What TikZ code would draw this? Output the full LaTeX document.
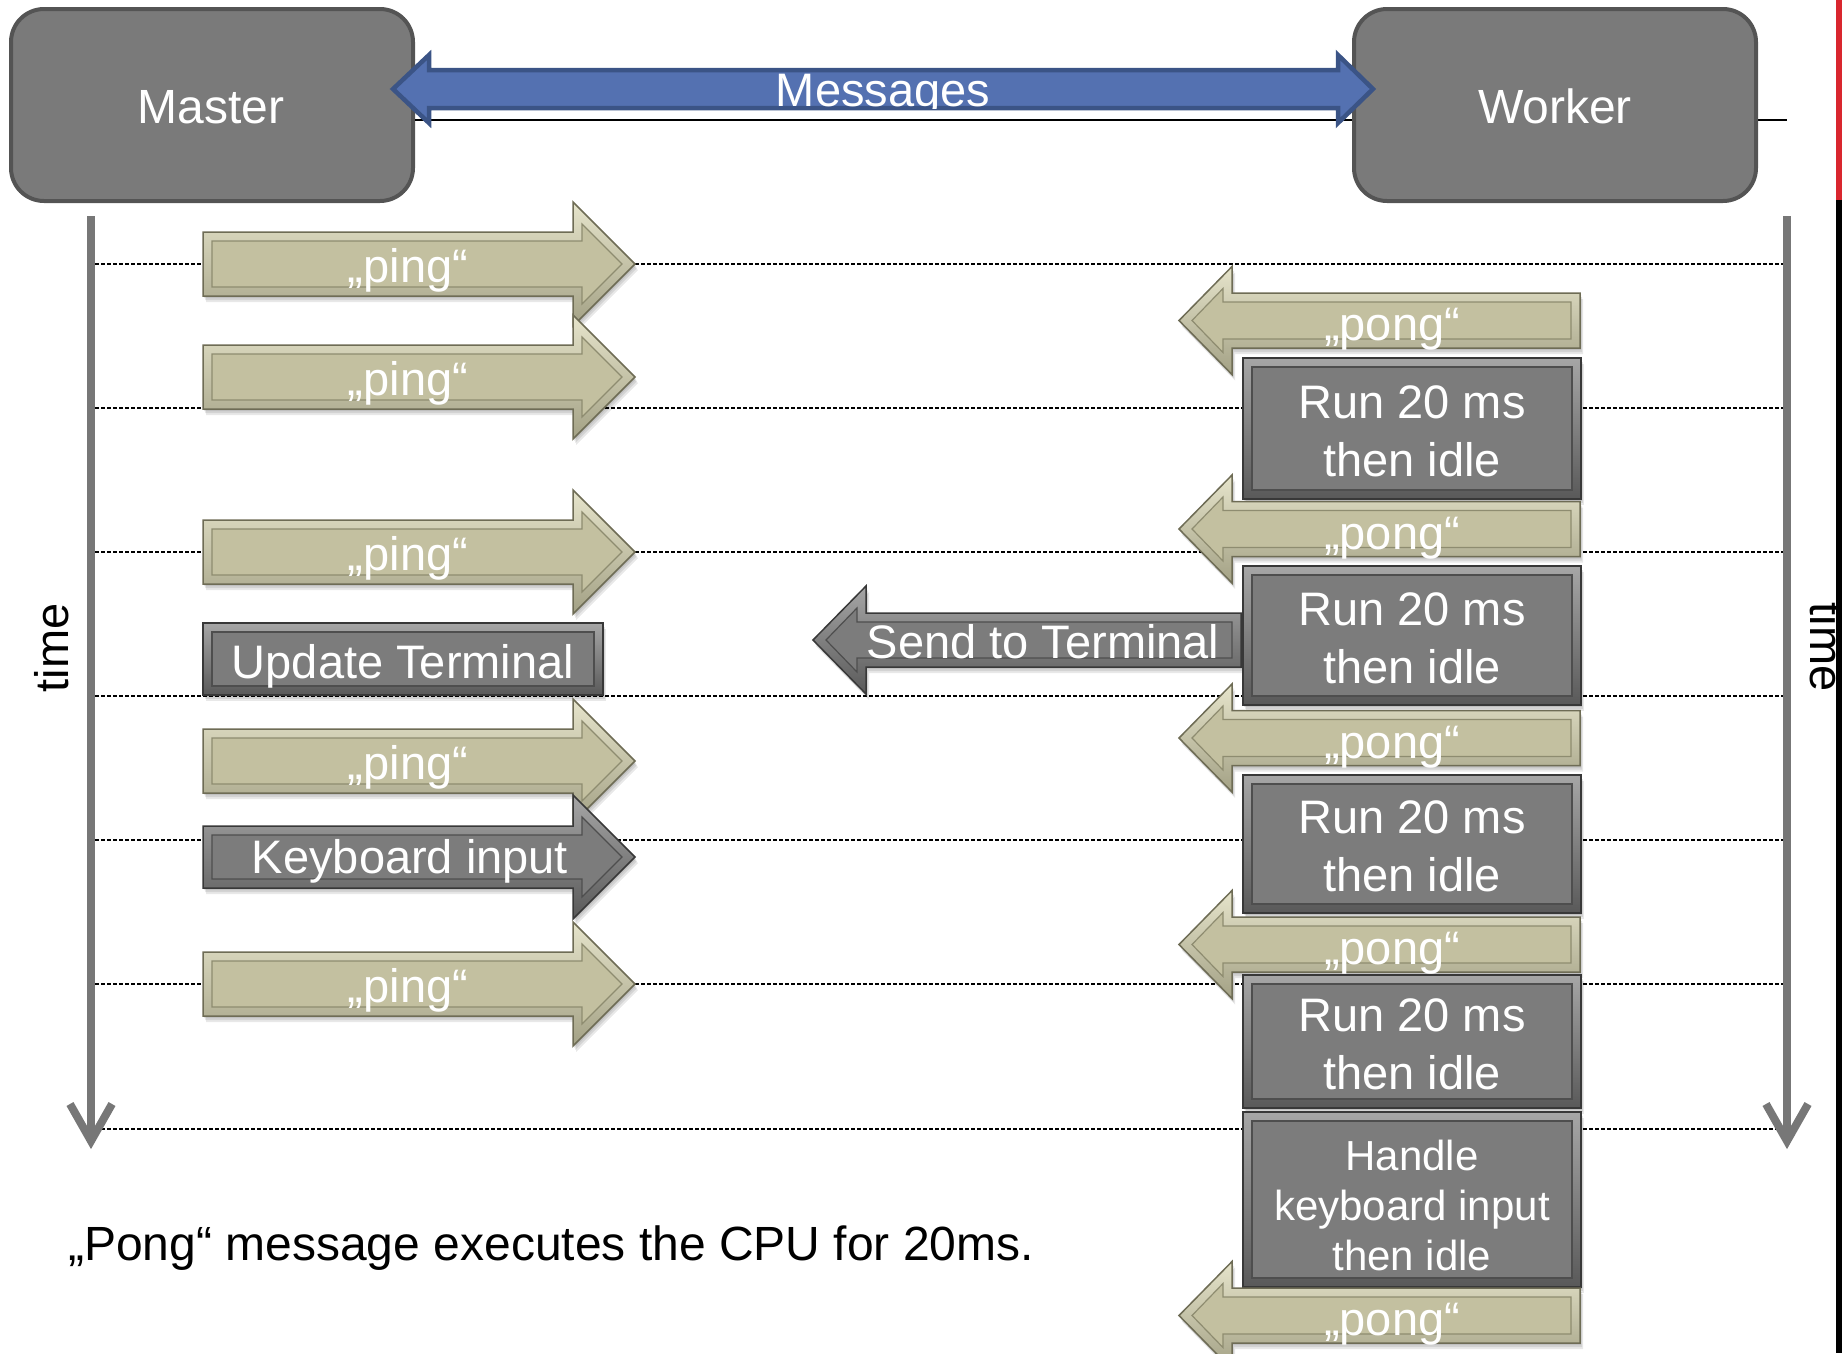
\documentclass[tikz,border=0pt]{standalone}
\usepackage{fontspec}
\setmainfont{Liberation Sans}
\definecolor{boxfill}{HTML}{7A7A7A}
\definecolor{boxline}{HTML}{545454}
\definecolor{msgfill}{HTML}{5471B1}
\definecolor{msgline}{HTML}{3B5486}
\definecolor{axisgray}{HTML}{777777}
\definecolor{khlight}{HTML}{E6E4CB}
\definecolor{khdark}{HTML}{A3A185}
\definecolor{khmain}{HTML}{C3C0A0}
\definecolor{khline}{HTML}{6E6C55}
\definecolor{khinner}{HTML}{8E8C70}
\definecolor{grlight}{HTML}{A6A6A6}
\definecolor{grdark}{HTML}{595959}
\definecolor{grmain}{HTML}{7C7C7C}
\definecolor{grline}{HTML}{383838}
\definecolor{grinner}{HTML}{4E4E4E}
\definecolor{barred}{HTML}{D9262E}

% block arrow outline: style; tail x; head-back x; tip x; centre y; body half-height; head half-height
\newcommand{\arrowshape}[7]{%
  \path[#1] ({#2},{(#5)-(#6)}) -- ({#3},{(#5)-(#6)}) -- ({#3},{(#5)-(#7)}) -- ({#4},{#5})
    -- ({#3},{(#5)+(#7)}) -- ({#3},{(#5)+(#6)}) -- ({#2},{(#5)+(#6)}) -- cycle;}

% bevelled block arrow with a soft shadow
\newcommand{\bevelarrow}[7]{%
  \pgfmathsetmacro\bsg{ifthenelse(#4>#2,1,-1)}%
  \foreach \sh in {2,4,6}{\arrowshape{fill=black,opacity=0.09,shift={(0.5*\sh,\sh)}}{#2}{#3}{#4}{#5}{#6}{#7}}%
  \arrowshape{#1 outer}{#2}{#3}{#4}{#5}{#6}{#7}%
  \arrowshape{#1 inner}{#2+(\bsg)*9}{#3+(\bsg)*9}{#4-(\bsg)*13}{#5}{#6-9}{#7-22}%
}

% bevelled rectangle with a soft shadow: kind; x1; y1; x2; y2
\newcommand{\bevelbox}[5]{%
  \foreach \sh in {2,4,6}{\path[fill=black,opacity=0.09,shift={(0.5*\sh,\sh)}] (#2,#3) rectangle (#4,#5);}%
  \path[#1 outer] (#2,#3) rectangle (#4,#5);%
  \path[#1 inner] ({#2+9},{#3+9}) rectangle ({#4-9},{#5-9});%
}

\begin{document}
\begin{tikzpicture}[x=1pt,y=-1pt,
  khaki outer/.style={top color=khlight, bottom color=khdark, draw=khline, line width=1.5pt},
  khaki inner/.style={fill=khmain, draw=khinner, line width=1.2pt},
  gray outer/.style={top color=grlight, bottom color=grdark, draw=grline, line width=1.5pt},
  gray inner/.style={fill=grmain, draw=grinner, line width=1.2pt},
  lbl/.style={text=white, inner sep=0pt, font=\fontsize{47}{58}\selectfont},
  multi/.style={text=white, inner sep=0pt, align=center, font=\fontsize{47}{58}\selectfont},
  procbox/.style={draw=boxline, fill=boxfill, line width=4pt, rounded corners=33pt,
    minimum width=402pt, minimum height=192pt, inner sep=0pt, text=white,
    font=\fontsize{48}{58}\selectfont},
  gridline/.style={draw=black, line width=1.2pt, dash pattern=on 4pt off 2pt},
  axis/.style={draw=axisgray, line width=8pt},
  axislabel/.style={inner sep=0pt, font=\fontsize{47}{58}\selectfont}]
\useasboundingbox (0,0) rectangle (1842,1353);

% time grid
\foreach \yy in {264,408,552,696,840,984,1129}
  \draw[gridline] (95,\yy) -- (1783,\yy);

% process boxes and the channel between them
\coordinate (chanend) at (1787,120);
\node[procbox] (master) at (212,105) {};
\draw[line width=2.5pt] (master.east |- chanend) -- (chanend);
\node[procbox] (worker) at (1555,105) {};
\node[text=white, inner sep=0pt, font=\fontsize{48}{58}\selectfont, anchor=base] (mastertxt) at (211,123) {Master};
\node[text=white, inner sep=0pt, font=\fontsize{48}{58}\selectfont, anchor=base] (workertxt) at (1555,123) {Worker};

% two-way message arrow
\path[fill=msgfill, draw=msgline, line width=4.5pt, line join=miter]
  (393,89) -- (429,55) -- (429,70) -- (1338,70) -- (1338,55) -- (1373,89)
  -- (1338,123) -- (1338,108) -- (429,108) -- (429,123) -- cycle;
\begin{scope}
  \clip (393,89) -- (429,55) -- (429,70) -- (1338,70) -- (1338,55) -- (1373,89)
    -- (1338,123) -- (1338,108) -- (429,108) -- (429,123) -- cycle;
  \node[lbl, anchor=base] (msg) at (883,106) {Messages};
\end{scope}

% time axes
\coordinate (ltop) at (91,216);
\coordinate (lbot) at (91,1141);
\coordinate (rtop) at (1787,216);
\coordinate (rbot) at (1787,1141);
\draw[axis] (ltop) -- (lbot);
\draw[axis, line join=miter] (70,1104) -- (lbot) -- (112,1104);
\draw[axis] (rtop) -- (rbot);
\draw[axis, line join=miter] (1766,1104) -- (rbot) -- (1808,1104);
\node[axislabel, rotate=90, anchor=base] (tleft) at (68,648) {time};
\node[axislabel, rotate=-90, anchor=base] (tright) at (1810,647) {time};

% master side
\bevelarrow{khaki}{203}{573}{635}{264}{32}{62}
\node[lbl, anchor=base] (ping1) at (408,282) {„ping“};
\bevelarrow{khaki}{203}{573}{635}{377}{32}{62}
\node[lbl, anchor=base] (ping2) at (408,395) {„ping“};
\bevelarrow{khaki}{203}{573}{635}{552}{32}{62}
\node[lbl, anchor=base] (ping3) at (408,570) {„ping“};
\bevelbox{gray}{203}{623}{603}{695}
\node[lbl, anchor=base] (update) at (403,678) {Update Terminal};
\bevelarrow{khaki}{203}{573}{635}{761}{32}{62}
\node[lbl, anchor=base] (ping4) at (408,779) {„ping“};
\bevelarrow{gray}{203}{573}{635}{857}{31}{62}
\node[lbl, anchor=base] (kbd) at (410,873) {Keyboard input};
\bevelarrow{khaki}{203}{573}{635}{984}{32}{62}
\node[lbl, anchor=base] (ping5) at (408,1002) {„ping“};

% output forwarded by the worker
\bevelarrow{gray}{1241}{866}{813}{640}{27}{54}
\node[lbl, anchor=base] (send) at (1043,658) {Send to Terminal};

% worker side
\bevelarrow{khaki}{1580}{1232}{1179}{320.5}{27.5}{54}
\node[lbl, anchor=base] (pong1) at (1392,340.5) {„pong“};
\bevelbox{gray}{1243}{358}{1581}{499}
\node[multi] (run1) at (1412,431) {Run 20 ms\\then idle};
\bevelarrow{khaki}{1580}{1232}{1179}{529}{27.5}{54}
\node[lbl, anchor=base] (pong2) at (1392,549) {„pong“};
\bevelbox{gray}{1243}{566}{1581}{705}
\node[multi] (run2) at (1412,638) {Run 20 ms\\then idle};
\bevelarrow{khaki}{1580}{1232}{1179}{738}{27.5}{54}
\node[lbl, anchor=base] (pong3) at (1392,758) {„pong“};
\bevelbox{gray}{1243}{775}{1581}{913}
\node[multi] (run3) at (1412,846) {Run 20 ms\\then idle};
\bevelarrow{khaki}{1580}{1232}{1179}{944.5}{27.5}{54}
\node[lbl, anchor=base] (pong4) at (1392,964.5) {„pong“};
\bevelbox{gray}{1243}{975}{1581}{1108}
\node[multi] (run4) at (1412,1044) {Run 20 ms\\then idle};
\bevelbox{gray}{1243}{1112}{1581}{1287}
\node[text=white, inner sep=0pt, align=center, font=\fontsize{42}{50}\selectfont] (handle) at (1412,1205) {Handle\\keyboard input\\then idle};
\bevelarrow{khaki}{1580}{1232}{1179}{1315.5}{27.5}{54}
\node[lbl, anchor=base] (pong5) at (1392,1335.5) {„pong“};

% note
\node[inner sep=0pt, anchor=base west, font=\fontsize{48}{58}\selectfont] (note) at (68,1260)
  {„Pong“ message executes the CPU for 20ms.};

% page edge bars
\fill[barred] (1836,0) rectangle (1842,200);
\fill[black] (1836,200) rectangle (1842,1353);
\end{tikzpicture}
\end{document}
